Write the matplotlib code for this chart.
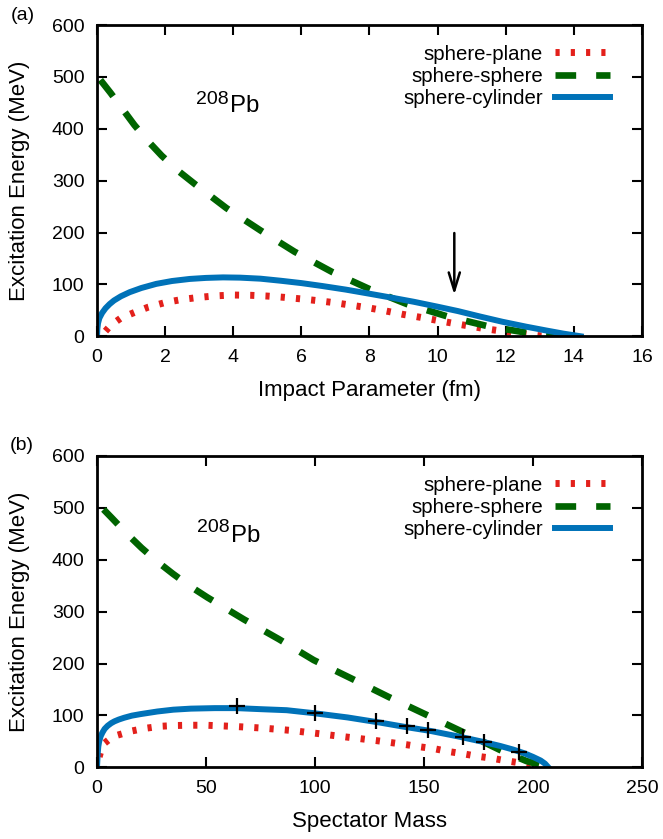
import matplotlib.pyplot as plt

plt.rcParams['font.family'] = ['Liberation Sans', 'DejaVu Sans']

# ---- panel (a): excitation energy vs impact parameter ----
b_plane = [0.25, 0.4, 0.7, 1.1, 1.5, 2.0, 2.5, 3.0, 3.5, 4.0, 4.5, 5.0, 5.5, 6.0, 6.5,
           7.0, 7.5, 8.0, 8.5, 9.0, 9.5, 10.0, 10.5, 11.0, 11.5, 12.0, 12.5, 13.0, 13.3]
e_plane_a = [10, 21, 35, 46, 56, 65, 71, 75, 78, 79.5, 79, 77.5, 75, 72, 68.5,
             64.5, 59.5, 54.5, 48.5, 42, 36.5, 30.5, 24.5, 19, 13.5, 9, 4.5, 1, 0]

b_sphere = [0.1, 0.4, 1.1, 1.5, 1.9, 2.4, 2.9, 3.8, 4.8, 5.8, 6.9, 8.0, 9.1, 10.3,
            11.5, 12.7, 13.5, 14.1]
e_sphere_a = [494, 469, 407, 376, 348, 318, 292, 247, 204, 163, 124, 91, 62, 38,
              19, 6, 1.5, 0]

b_cyl = [0, 0.01, 0.03, 0.07, 0.15, 0.25, 0.37, 0.5, 0.7, 0.96, 1.3, 1.74, 2.2, 2.72,
         3.2, 3.7, 4.2, 4.8, 5.4, 6.0, 6.6, 7.3, 8.0, 8.6, 9.3, 10.0, 10.6, 11.25,
         11.9, 12.6, 13.2, 13.7, 14.2]
e_cyl_a = [0, 14, 25, 35, 45, 54, 62, 69, 77, 85, 93, 101, 106.5, 110.5,
           112.5, 113.5, 113, 111, 107, 102.5, 97, 90, 82, 75, 66.5, 57, 48.5, 38,
           28, 18.5, 11, 5, 0]

arrow_b = 10.49
arrow_from, arrow_to = 199, 80

# ---- panel (b): excitation energy vs spectator mass ----
m_plane = [1, 2, 3.3, 6, 9.5, 16, 22, 29, 36, 43, 50, 56, 63, 70, 76, 82, 89, 95, 102,
           108, 115, 121, 128, 135, 142, 148, 155, 161, 168, 174, 181, 187, 194, 199, 204]
e_plane_b = [20, 35, 46, 55, 62, 70, 75, 79, 80.5, 81, 81, 80, 78.7, 77, 75.5, 73.5, 71, 68,
             64.7, 61.5, 58, 55, 51.5, 47.5, 43.5, 39.5, 35.5, 30.5, 26, 21.5, 17.5, 13, 8.5, 4, 0]

m_sphere = [3, 6.7, 13.5, 20.4, 27.5, 34.9, 42.5, 50.6, 67.4, 83.4, 99.4, 117, 133.7,
            151.2, 168.8, 184.8, 197, 207]
e_sphere_b = [497, 481, 451, 423, 397, 372.7, 349.5, 327.5, 285, 247, 206.6, 170.5, 135.7,
              101, 66, 33.5, 12, 0]

m_cyl = [0, 0.3, 0.6, 1, 1.7, 2.5, 3.5, 4.9, 6.5, 8, 10, 12.5, 16, 20, 27.7, 35, 43, 54,
         64, 75, 87, 99, 115, 130, 141, 153, 165, 176, 185, 191, 196, 200, 203.5, 205.5, 207]
e_cyl_b = [0, 25, 40, 50, 60, 67, 74, 80, 85, 88.5, 92, 95.5, 99.5, 102.5, 107.5, 111, 113,
           114, 114, 112, 110, 104.5, 96, 86, 78, 70, 60, 50, 41, 34, 27, 20, 13, 7, 0]

m_cross = [64, 100, 128, 142, 152, 168, 177.5, 193.5]
e_cross = [118, 104, 90, 79, 72, 58, 48, 29]

red = '#e3201b'
green = '#006400'
blue = '#0072b8'

fig = plt.figure(figsize=(6.63, 8.39), dpi=100)
ax1 = fig.add_axes([0.1463, 0.5992, 0.822, 0.371])
ax2 = fig.add_axes([0.1463, 0.0855, 0.822, 0.371])


def draw(ax, x1, y1, x2, y2, x3, y3):
    ax.plot(x1, y1, color=red, lw=5, ls=(0, (0.6, 1.6)), label='sphere-plane')
    ax.plot(x2, y2, color=green, lw=4.8, ls=(0, (3.1, 3.0)), label='sphere-sphere')
    ax.plot(x3, y3, color=blue, lw=4.3, label='sphere-cylinder')
    ax.set_ylim(0, 600)
    ax.set_yticks(range(0, 601, 100))
    ax.set_ylabel('Excitation Energy (MeV)', fontsize=16, labelpad=16)
    ax.tick_params(direction='in', length=7, width=1.5, top=True, right=True,
                   labelsize=14, pad=9)
    for s in ax.spines.values():
        s.set_linewidth(2)
    ax.legend(loc='upper right', bbox_to_anchor=(0.942, 0.937), frameon=False,
              markerfirst=False, fontsize=14.7, handlelength=2.7, handletextpad=0.6,
              labelspacing=0.15, borderpad=0, borderaxespad=0)


draw(ax1, b_plane, e_plane_a, b_sphere, e_sphere_a, b_cyl, e_cyl_a)
ax1.set_xlim(0, 16)
ax1.set_xticks(range(0, 17, 2))
ax1.set_xlabel('Impact Parameter (fm)', fontsize=16, labelpad=10)
ax1.annotate('', xy=(arrow_b, arrow_to), xytext=(arrow_b, arrow_from),
             arrowprops=dict(arrowstyle='->,head_length=1.3,head_width=0.4',
                             color='black', lw=1.8, shrinkA=0, shrinkB=0))
ax1.text(2.9, 448, '208', fontsize=14, ha='left', va='baseline')
ax1.text(3.9, 432, 'Pb', fontsize=17.3, ha='left', va='baseline')

draw(ax2, m_plane, e_plane_b, m_sphere, e_sphere_b, m_cyl, e_cyl_b)
ax2.plot(m_cross, e_cross, ls='none', marker='+', color='black', ms=12, mew=1.6)
ax2.set_xlim(0, 250)
ax2.set_xticks(range(0, 251, 50))
ax2.set_xlabel('Spectator Mass', fontsize=16, labelpad=10)
ax2.text(45.7, 453, '208', fontsize=14, ha='left', va='baseline')
ax2.text(61.3, 434, 'Pb', fontsize=17.3, ha='left', va='baseline')

fig.text(23 / 663, 1 - 15 / 839, '(a)', fontsize=14, ha='center', va='center')
fig.text(22 / 663, 1 - 445 / 839, '(b)', fontsize=14, ha='center', va='center')

fig.savefig('out.png', dpi=100)
